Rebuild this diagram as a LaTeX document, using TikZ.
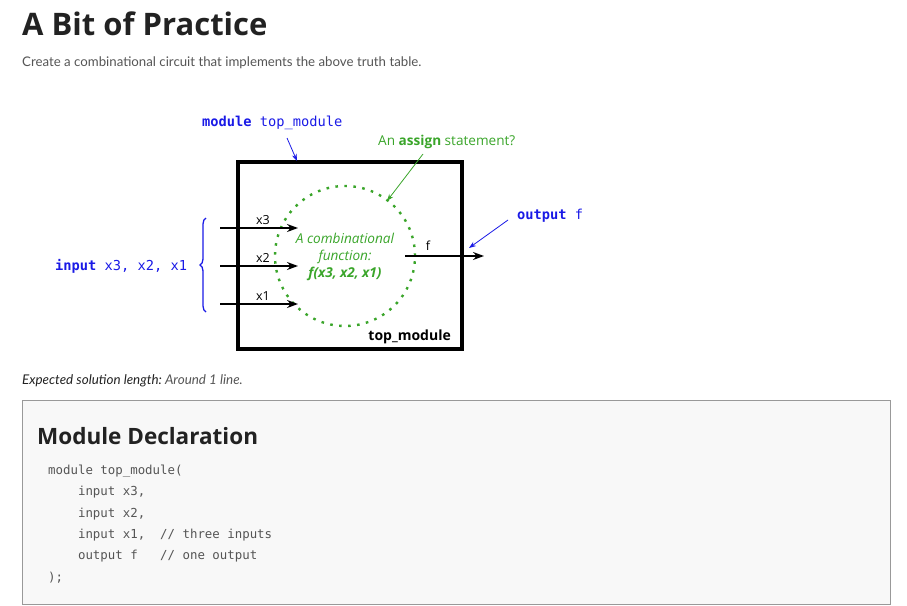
\documentclass[tikz,border=0pt]{standalone}
\usepackage{fontspec}
\setmainfont{Open Sans}
\newfontfamily\bodyfont{Lato}
\newfontfamily\codefont{DejaVu Sans Mono}
\usetikzlibrary{arrows.meta,decorations.pathreplacing}
\definecolor{vblue}{HTML}{1A1AE6}
\definecolor{vgreen}{HTML}{3AA52A}
\definecolor{titlec}{HTML}{222222}
\definecolor{bodyc}{HTML}{555555}
\definecolor{codec}{HTML}{555555}
\definecolor{panelfill}{HTML}{F8F8F8}
\definecolor{panelline}{HTML}{999999}
\tikzset{
  txt/.style={inner sep=0pt, anchor=base west},
  bluemono/.style={txt, text=vblue, font=\codefont\fontsize{13.7}{16}\selectfont},
  codeline/.style={txt, text=codec, font=\codefont\fontsize{12.4}{14}\selectfont},
  inarrow/.style={line width=1.6pt, -{Stealth[length=11pt,width=8pt]}},
  pointer/.style={line width=0.8pt, -{Stealth[length=7pt,width=5pt]}},
  lbl/.style={inner sep=0pt, anchor=base, font=\fontsize{12.5}{14}\selectfont},
  infn/.style={lbl, text=vgreen, font=\fontsize{13.6}{15}\itshape\selectfont},
}
\begin{document}
\begin{tikzpicture}[x=1pt,y=-1pt]
\useasboundingbox (0,0) rectangle (907,605);
% title
\node[txt, text=titlec, font=\fontsize{31}{36}\bfseries\selectfont] (title) at (22,35) {A Bit of Practice};
\node[txt, text=bodyc, font=\bodyfont\fontsize{13.25}{15}\selectfont] (sub) at (22,66) {Create a combinational circuit that implements the above truth table.};
% module box
\draw[line width=3.5pt] (238,162) rectangle (462,349);
\node[inner sep=0pt, anchor=base east, font=\fontsize{14}{16}\bfseries\selectfont] (tm) at (451,340) {top\_module};
% dotted circle
\node[circle, minimum size=140pt, draw=vgreen, line width=2.4pt, dash pattern=on 2.6pt off 6.4pt, inner sep=0pt] (fn) at (345,256) {};
\node[infn] (t1) at (345,243) {A combinational};
\node[infn] (t2) at (345,260) {function:};
\node[infn, font=\fontsize{13.6}{15}\bfseries\itshape\selectfont] (t3) at (345,277) {f(x3, x2, x1)};
% inputs
\coordinate (i3s) at (220,228); \coordinate (i3e) at (298,228);
\coordinate (i2s) at (220,266); \coordinate (i2e) at (298,266);
\coordinate (i1s) at (220,304); \coordinate (i1e) at (298,304);
\draw[inarrow] (i3s) -- (i3e);
\draw[inarrow] (i2s) -- (i2e);
\draw[inarrow] (i1s) -- (i1e);
\node[lbl] (l3) at (263,224) {x3};
\node[lbl] (l2) at (263,262) {x2};
\node[lbl] (l1) at (263,300) {x1};
% output
\coordinate (os) at (405,256); \coordinate (oe) at (484,256);
\draw[inarrow] (os) -- (oe);
\node[lbl] (lf) at (428,250) {f};
% brace and input label
\draw[vblue, line width=1.3pt, decorate, decoration={brace, amplitude=6pt, mirror}] (206,218) -- (206,312);
\node[bluemono] (inp) at (55,270) {\textbf{input} x3, x2, x1};
% module label
\node[bluemono] (mod) at (202,126) {\textbf{module} top\_module};
\coordinate (mp) at (297,161);
\draw[vblue, pointer] (287,138) -- (mp);
% assign label
\node[txt, text=vgreen, font=\fontsize{13.6}{15}\selectfont] (asg) at (378,145) {An \textbf{assign} statement?};
\coordinate (ap) at (387,201);
\draw[vgreen, pointer] (423,154) -- (ap);
% output label
\node[bluemono] (outl) at (517,219) {\textbf{output} f};
\coordinate (op) at (469,248);
\draw[vblue, pointer] (508,220) -- (op);
% expected
\node[txt, text=titlec, font=\bodyfont\fontsize{13.4}{15}\itshape\selectfont] (exp) at (22,384) {Expected solution length:\ \textcolor{bodyc}{Around 1 line.}};
% panel
\draw[draw=panelline, fill=panelfill, line width=1pt] (22,400) rectangle (890,604);
\node[txt, text=titlec, font=\fontsize{22.5}{26}\bfseries\selectfont] (md) at (37,444) {Module Declaration};
\node[codeline] (c1) at (48,474) {module top\_module(};
\node[codeline] (c2) at (48,495) {\ \ \ \ input x3,};
\node[codeline] (c3) at (48,517) {\ \ \ \ input x2,};
\node[codeline] (c4) at (48,538) {\ \ \ \ input x1,\ \ // three inputs};
\node[codeline] (c5) at (48,559) {\ \ \ \ output f\ \ \ // one output};
\node[codeline] (c6) at (48,581) {);};
\end{tikzpicture}
\end{document}
